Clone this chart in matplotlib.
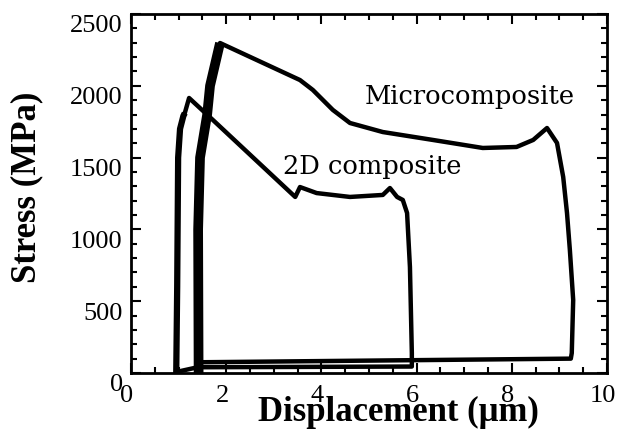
import matplotlib
matplotlib.use("Agg")
import matplotlib.pyplot as plt
from matplotlib.ticker import MultipleLocator
from matplotlib.transforms import ScaledTranslation

plt.rcParams['font.family'] = ['Liberation Serif', 'DejaVu Serif']

# 2D composite: load, peak, drop, plateau, final drop, return
comp2d_x = [0.95, 0.97, 0.99, 1.03, 1.10, 1.13, 1.22, 1.72, 3.45, 3.55, 3.90, 4.60,
            5.29, 5.44, 5.59, 5.71, 5.80, 5.86, 5.90, 5.90, 1.40, 0.99]
comp2d_y = [0, 600, 1500, 1700, 1790, 1810, 1915, 1762, 1226, 1295, 1253, 1226,
            1240, 1288, 1226, 1205, 1114, 738, 139, 45, 40, 10]

# microcomposite
micro_x = [1.42, 1.41, 1.45, 1.60, 1.66, 1.87, 3.55, 3.82, 4.24, 4.60, 5.29, 6.34,
           7.39, 8.10, 8.45, 8.74, 8.95, 9.08, 9.16, 9.22, 9.29, 9.26, 9.24, 1.50]
micro_y = [0, 1000, 1500, 1800, 2000, 2298, 2040, 1971, 1832, 1741, 1678, 1623,
           1567, 1574, 1623, 1706, 1602, 1365, 1114, 857, 508, 139, 100, 75]

fig = plt.figure(figsize=(6.23, 4.36), dpi=100)
ax = fig.add_axes([0.2103, 0.1445, 0.764, 0.8234])

ax.plot(comp2d_x, comp2d_y, color='black', lw=3.2, solid_joinstyle='round')
ax.plot(comp2d_x[:6], comp2d_y[:6], color='black', lw=4.5, solid_capstyle='butt')
ax.plot(micro_x, micro_y, color='black', lw=3.2, solid_joinstyle='round')
# the loading branch of the microcomposite is very noisy and shows up thick
ax.plot(micro_x[:6], micro_y[:6], color='black', lw=7, solid_capstyle='butt')

ax.text(4.92, 1922, 'Microcomposite', fontsize=18.5, va='center', ha='left',
        family='DejaVu Serif')
ax.text(3.19, 1435, '2D composite', fontsize=18.5, va='center', ha='left',
        family='DejaVu Serif')

ax.set_xlim(0, 10)
ax.set_ylim(0, 2500)
ax.xaxis.set_major_locator(MultipleLocator(2))
ax.xaxis.set_minor_locator(MultipleLocator(0.5))
ax.yaxis.set_major_locator(MultipleLocator(500))
ax.yaxis.set_minor_locator(MultipleLocator(100))
ax.tick_params(which='both', direction='in', top=True, right=True, width=1.5,
               labelsize=19)
ax.tick_params(axis='x', which='major', pad=9)
ax.tick_params(axis='y', which='major', pad=6)
ax.tick_params(which='major', length=7)
ax.tick_params(which='minor', length=4)
for s in ax.spines.values():
    s.set_linewidth(2)

# the scanned tick labels sit a little off their ticks
for t in ax.yaxis.get_major_ticks():
    t.label1.set_transform(t.label1.get_transform() +
                           ScaledTranslation(0, -0.10, fig.dpi_scale_trans))
for t in ax.xaxis.get_major_ticks():
    t.label1.set_transform(t.label1.get_transform() +
                           ScaledTranslation(-0.04, 0, fig.dpi_scale_trans))

ax.set_xlabel('Displacement (\u03bcm)', fontsize=25, fontweight='bold')
ax.set_ylabel('Stress (MPa)', fontsize=25, fontweight='bold')
ax.xaxis.set_label_coords(0.561, -0.063)
ax.yaxis.set_label_coords(-0.185, 0.518)

fig.savefig('out.png', dpi=100)
